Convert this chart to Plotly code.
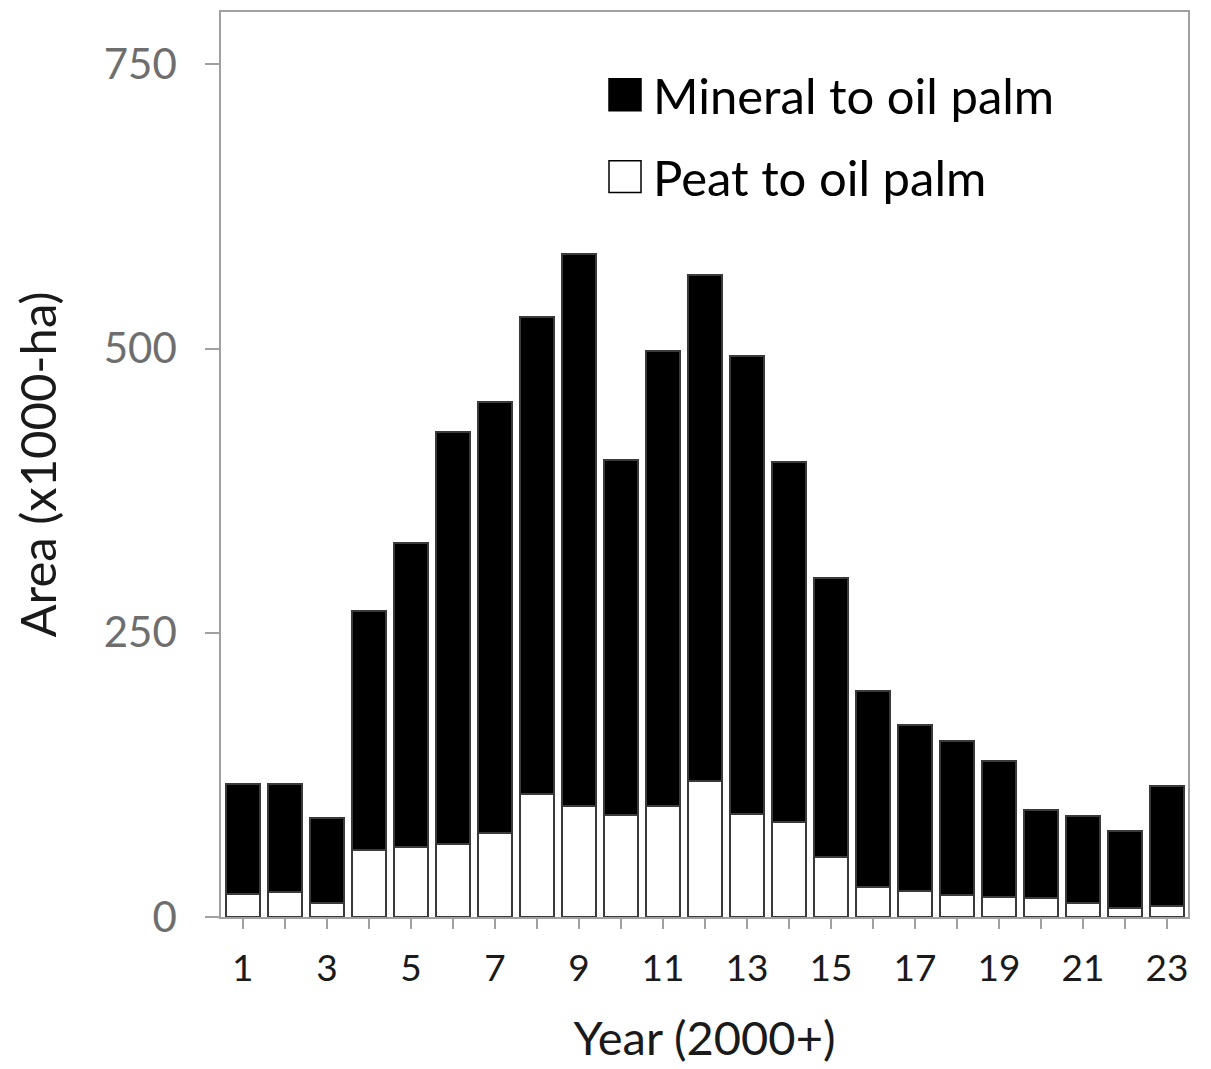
import plotly.graph_objects as go

years = list(range(1, 24))
x_labels = [str(y) if y % 2 == 1 else "" for y in years]
total = [117, 117, 87, 269, 329, 427, 453, 528, 583, 402, 498, 565, 493, 400, 298, 199, 169, 155, 137, 94, 89, 76, 115]
peat = [20, 22, 12, 59, 62, 64, 74, 108, 98, 90, 98, 120, 91, 84, 53, 26, 23, 19, 18, 17, 12, 8, 10]
mineral = [t - p for t, p in zip(total, peat)]
y_ticks = [0, 250, 500, 750]

FONT = "Lato"
fig = go.Figure()
fig.add_trace(go.Bar(x=years, y=peat, name="Peat to oil palm",
                     marker=dict(color="white", line=dict(color="#3a3a3a", width=2)),
                     showlegend=False))
fig.add_trace(go.Bar(x=years, y=mineral, name="Mineral to oil palm",
                     marker=dict(color="black", line=dict(color="#3a3a3a", width=2)),
                     showlegend=False))

fig.update_layout(
    width=1203, height=1061,
    margin=dict(l=213, r=23, t=2, b=152),
    barmode="stack", bargap=0.19,
    plot_bgcolor="white", paper_bgcolor="white",
    font=dict(family=FONT, color="black"),
)
fig.update_xaxes(
    range=[0.48, 23.5], tickmode="array", tickvals=years, ticktext=x_labels,
    ticks="outside", ticklen=10, tickcolor="#a0a0a0", tickwidth=1.5,
    showline=True, linecolor="#a0a0a0", linewidth=1.5, mirror=True,
    showgrid=False, zeroline=False,
    tickfont=dict(size=37, color="#1a1a1a", family=FONT),
    ticklabelstandoff=8,
    title=dict(text="Year (2000+)", font=dict(size=47, color="#1a1a1a", family=FONT), standoff=34),
)
fig.update_yaxes(
    range=[0, 796], tickmode="array", tickvals=y_ticks,
    ticks="outside", ticklen=14, tickcolor="#a0a0a0", tickwidth=1.5,
    showline=True, linecolor="#a0a0a0", linewidth=1.5, mirror=True,
    showgrid=False, zeroline=False,
    tickfont=dict(size=42, color="#6e6e6e", family=FONT),
    ticklabelstandoff=20,
    title=dict(text="Area (x1000-ha)", font=dict(size=49, color="#1a1a1a", family=FONT), standoff=32),
)

# legend drawn as shapes + text
legend_items = [("Mineral to oil palm", "black", 93), ("Peat to oil palm", "white", 175)]
for label, col, yc in legend_items:
    fig.add_shape(type="rect", xref="paper", yref="paper",
                  x0=(609 - 221) / 967, x1=(641 - 221) / 967,
                  y0=(917 - (yc + 16)) / 907, y1=(917 - (yc - 16)) / 907,
                  fillcolor=col, line=dict(color="black", width=1.5))
    fig.add_annotation(xref="paper", yref="paper", x=(651 - 221) / 967, y=(917 - yc) / 907,
                       text=label, showarrow=False, xanchor="left", yanchor="middle",
                       font=dict(size=49, color="black", family=FONT))

fig.write_html("out.html")
